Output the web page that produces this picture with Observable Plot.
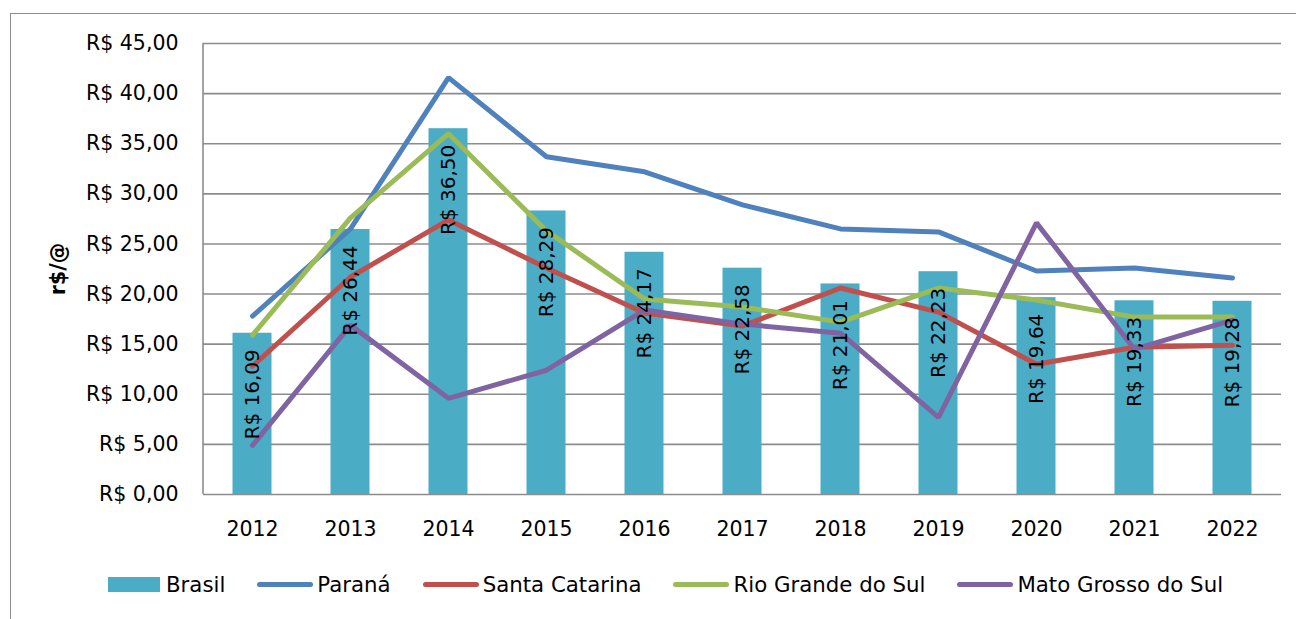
<!DOCTYPE html>
<html>
<head>
<meta charset="utf-8">
<script src="https://cdn.jsdelivr.net/npm/d3@7"></script>
<script src="https://cdn.jsdelivr.net/npm/@observablehq/plot@0.6"></script>
<style>
  html, body { margin: 0; padding: 0; background: #fff; }
  #wrap { position: relative; width: 1296px; height: 619px; overflow: hidden; font-family: "DejaVu Sans", sans-serif; }
  #frame { position: absolute; left: 10px; top: 13px; right: -5px; bottom: -5px; border-left: 1.5px solid #8c8c8c; border-top: 1.5px solid #8c8c8c; pointer-events: none; }
  #chart { position: absolute; left: 0; top: 0; }
  #legend { position: absolute; left: 108px; top: 572px; display: flex; align-items: center; font-size: 21.3px; color: #000; white-space: nowrap; }
  .item { display: flex; align-items: center; margin-right: 32px; }
  .sw-rect { width: 52px; height: 15px; margin-right: 6px; }
  .sw-line { width: 56px; height: 5px; border-radius: 3px; margin-right: 4px; }
</style>
</head>
<body>
<div id="wrap">
  <div id="frame"></div>
  <div id="chart"></div>
  <div id="legend"></div>
</div>
<script>
const years = ["2012","2013","2014","2015","2016","2017","2018","2019","2020","2021","2022"];
const brasil = [16.09, 26.44, 36.50, 28.29, 24.17, 22.58, 21.01, 22.23, 19.64, 19.33, 19.28];
const parana = [17.8, 26.5, 41.6, 33.7, 32.2, 28.9, 26.5, 26.2, 22.3, 22.6, 21.6];
const santaCatarina = [12.8, 21.7, 27.4, 22.6, 18.1, 16.8, 20.6, 18.2, 13.0, 14.7, 14.9];
const rioGrandeDoSul = [15.9, 27.6, 36.0, 26.3, 19.5, 18.7, 17.2, 20.6, 19.4, 17.7, 17.7];
const matoGrossoDoSul = [4.9, 16.9, 9.6, 12.4, 18.4, 17.0, 16.1, 7.7, 27.1, 14.5, 17.4];
const yTicks = [0, 5, 10, 15, 20, 25, 30, 35, 40, 45];
const barName = "Brasil";
const lineNames = ["Paraná", "Santa Catarina", "Rio Grande do Sul", "Mato Grosso do Sul"];
const lineSeries = [parana, santaCatarina, rioGrandeDoSul, matoGrossoDoSul];
const barColor = "#4BACC6";
const lineColors = ["#4F81BD", "#C0504D", "#9BBB59", "#8064A2"];

const fmt = v => "R$ " + v.toFixed(2).replace(".", ",");

const barData = years.map((y, i) => ({year: y, value: brasil[i]}));
const lineData = lineNames.flatMap((name, k) =>
  years.map((y, i) => ({series: name, year: y, value: lineSeries[k][i]})));

const gridColor = "#8c8c8c";

const plot = Plot.plot({
  width: 1296,
  height: 560,
  marginLeft: 203,
  marginRight: 15,
  marginTop: 43,
  marginBottom: 66,
  style: {fontFamily: "DejaVu Sans, sans-serif", fontSize: "20.5px", color: "#000", background: "transparent"},
  x: {domain: years, padding: 0, tickSize: 0, tickPadding: 27, label: null},
  y: {domain: [0, 45], ticks: yTicks, tickFormat: fmt, tickSize: 0, tickPadding: 25,
      label: "r$/@", labelAnchor: "center", labelOffset: 153, labelArrow: "none"},
  color: {domain: lineNames, range: lineColors},
  marks: [
    Plot.ruleY(yTicks, {stroke: gridColor, strokeWidth: 1.6}),
    Plot.barY(barData, {x: "year", y: "value", fill: barColor, insetLeft: 29.5, insetRight: 29.5}),
    Plot.lineY(lineData, {x: "year", y: "value", z: "series", stroke: "series",
      strokeWidth: 5, strokeLinejoin: "miter", strokeLinecap: "round"}),
    Plot.text(barData, {x: "year", y: "value", text: d => fmt(d.value), rotate: -90,
      textAnchor: "end", lineAnchor: "middle", dy: 16, fill: "#000", fontSize: 20})
  ]
});

// left axis line drawn at the x scale's range start
const xs = plot.scale("x"), ys = plot.scale("y");
d3.select(plot).append("line")
  .attr("x1", xs.range[0]).attr("x2", xs.range[0])
  .attr("y1", ys.range[0]).attr("y2", ys.range[1])
  .attr("stroke", gridColor).attr("stroke-width", 1.6);

// bold axis title
d3.select(plot).selectAll("text").filter(function() { return this.textContent === "r$/@"; })
  .attr("font-weight", "bold");

document.getElementById("chart").appendChild(plot);

// legend
const legend = d3.select("#legend");
const b = legend.append("div").attr("class", "item");
b.append("div").attr("class", "sw-rect").style("background", barColor);
b.append("span").text(barName);
lineNames.forEach((n, k) => {
  const it = legend.append("div").attr("class", "item");
  it.append("div").attr("class", "sw-line").style("background", lineColors[k]);
  it.append("span").text(n);
});
</script>
</body>
</html>
